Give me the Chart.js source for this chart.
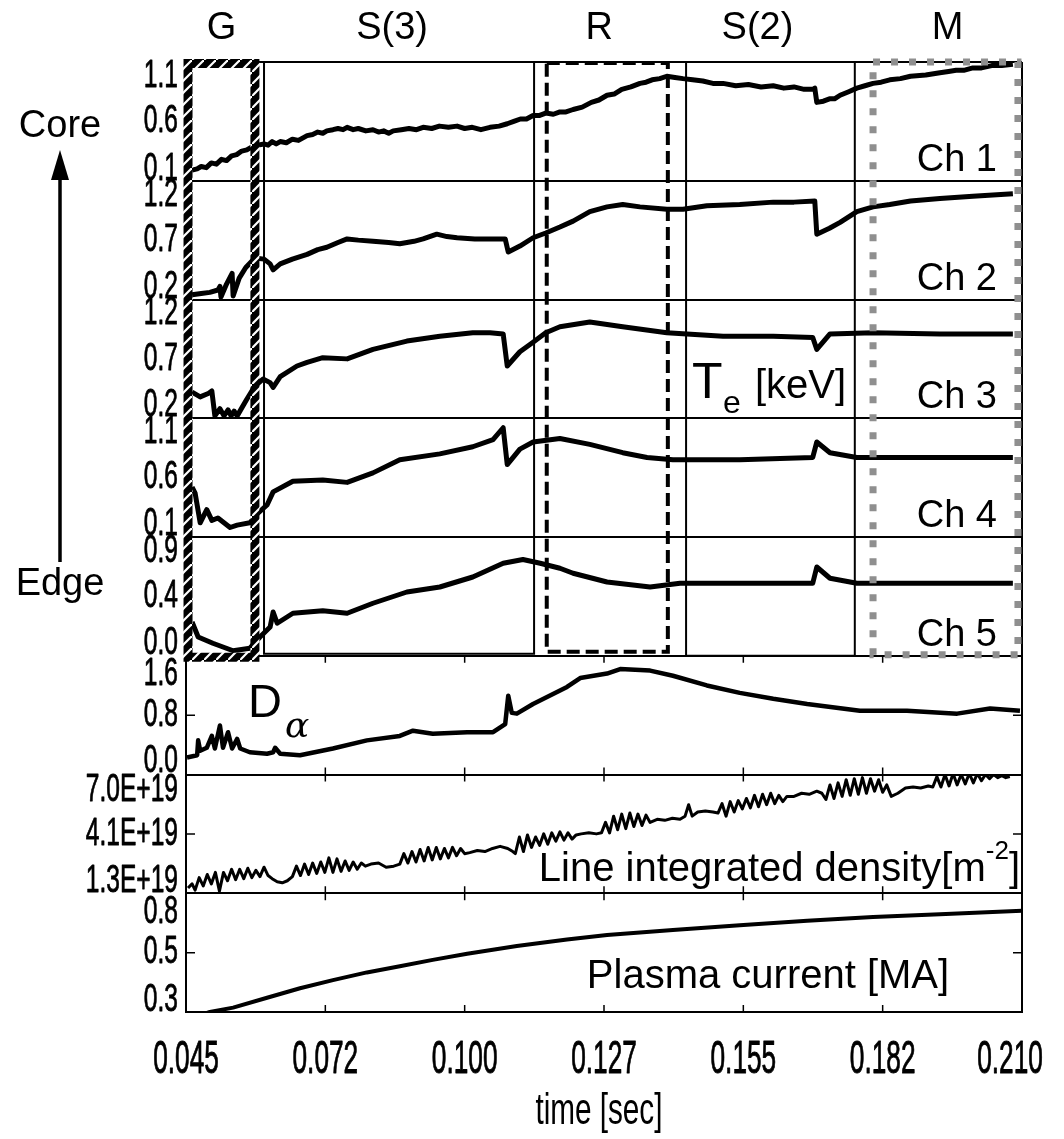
<!DOCTYPE html>
<html><head><meta charset="utf-8">
<script src="https://cdn.jsdelivr.net/npm/chart.js@4.4.1/dist/chart.umd.min.js"></script>
<style>html,body{margin:0;padding:0;background:#fff;}canvas{display:block;}</style>
</head><body>
<canvas id="c" width="1064" height="1139" style="width:1064px;height:1139px"></canvas>
<script>
// ---------------- DATA ----------------
const xTickVals = [0.045, 0.0725, 0.100, 0.1275, 0.155, 0.1825, 0.210];
const xTickLabels = ['0.045','0.072','0.100','0.127','0.155','0.182','0.210'];

const ch1T = [0.0462,0.0472,0.0480,0.0490,0.0500,0.0510,0.0520,0.0530,0.0540,0.0550,0.0560,0.0570,0.0582,0.0592,0.0604,0.0612,0.0620,0.0628,0.0636,0.0648,0.0660,0.0672,0.0689,0.0700,0.0710,0.0720,0.0728,0.0740,0.0750,0.0760,0.0768,0.0780,0.0790,0.0805,0.0819,0.0830,0.0840,0.0850,0.0859,0.0875,0.0890,0.0905,0.0918,0.0935,0.0950,0.0968,0.0985,0.1000,0.1015,0.1032,0.1050,0.1068,0.1084,0.1097,0.1110,0.1122,0.1135,0.1148,0.1160,0.1175,0.1188,0.1200,0.1214,0.1232,0.1250,0.1265,0.1281,0.1295,0.1310,0.1328,0.1346,0.1358,0.1370,0.1385,0.1399,0.1415,0.1431,0.1450,0.1470,0.1490,0.1510,0.1535,0.1560,0.1585,0.1609,0.1630,0.1650,0.1670,0.1687,0.1691,0.1695,0.1708,0.1720,0.1730,0.1741,0.1758,0.1774,0.1790,0.1806,0.1822,0.1839,0.1860,0.1880,0.1910,0.1938,0.1955,0.1970,0.1985,0.2003,0.2020,0.2040,0.2060,0.2082];
const ch1V = [0.19,0.20,0.22,0.21,0.25,0.24,0.28,0.27,0.31,0.32,0.35,0.36,0.39,0.40,0.41,0.40,0.43,0.41,0.43,0.42,0.45,0.44,0.48,0.49,0.51,0.50,0.52,0.53,0.54,0.53,0.55,0.53,0.54,0.52,0.53,0.51,0.52,0.50,0.52,0.53,0.54,0.53,0.55,0.54,0.56,0.55,0.56,0.54,0.55,0.53,0.55,0.56,0.58,0.60,0.62,0.62,0.65,0.65,0.67,0.66,0.68,0.68,0.70,0.72,0.76,0.78,0.82,0.83,0.87,0.89,0.92,0.93,0.95,0.96,0.98,0.97,0.96,0.95,0.94,0.92,0.92,0.90,0.91,0.89,0.90,0.88,0.89,0.87,0.87,0.88,0.76,0.77,0.79,0.79,0.82,0.85,0.88,0.90,0.92,0.93,0.95,0.96,0.98,0.99,1.01,1.02,1.03,1.03,1.05,1.05,1.07,1.07,1.08];

const ch2T = [0.0462,0.0480,0.0497,0.0513,0.0517,0.0519,0.0530,0.0541,0.0543,0.0555,0.0568,0.0586,0.0604,0.0616,0.0622,0.0636,0.0660,0.0689,0.0710,0.0728,0.0750,0.0768,0.0790,0.0819,0.0850,0.0872,0.0900,0.0918,0.0945,0.0965,0.0985,0.1020,0.1050,0.1080,0.1086,0.1109,0.1135,0.1160,0.1188,0.1214,0.1247,0.1281,0.1312,0.1346,0.1399,0.1431,0.1478,0.1543,0.1609,0.1650,0.1691,0.1695,0.1720,0.1741,0.1774,0.1806,0.1839,0.1880,0.1938,0.2003,0.2082];
const ch2V = [0.24,0.25,0.26,0.28,0.31,0.22,0.33,0.42,0.23,0.38,0.47,0.55,0.54,0.50,0.45,0.50,0.54,0.58,0.62,0.64,0.68,0.71,0.70,0.69,0.68,0.67,0.69,0.71,0.75,0.73,0.72,0.71,0.71,0.71,0.60,0.65,0.72,0.76,0.81,0.86,0.94,0.98,1.00,0.98,0.96,0.96,0.99,1.00,1.02,1.02,1.03,0.75,0.80,0.85,0.94,0.98,1.00,1.03,1.05,1.07,1.09];

const ch3T = [0.0462,0.0478,0.0495,0.0501,0.0507,0.0517,0.0525,0.0533,0.0539,0.0545,0.0551,0.0570,0.0586,0.0602,0.0616,0.0622,0.0636,0.0669,0.0689,0.0720,0.0768,0.0819,0.0886,0.0951,0.1016,0.1050,0.1076,0.1084,0.1109,0.1135,0.1160,0.1188,0.1247,0.1312,0.1399,0.1510,0.1609,0.1687,0.1695,0.1721,0.1806,0.1938,0.2082];
const ch3V = [0.42,0.38,0.41,0.43,0.22,0.28,0.22,0.27,0.22,0.26,0.22,0.36,0.47,0.53,0.50,0.46,0.55,0.64,0.67,0.71,0.70,0.78,0.85,0.89,0.92,0.92,0.91,0.64,0.76,0.84,0.92,0.97,1.01,0.97,0.92,0.89,0.89,0.88,0.78,0.91,0.92,0.91,0.91];

const ch4T = [0.0462,0.0468,0.0478,0.0491,0.0501,0.0513,0.0525,0.0537,0.0551,0.0576,0.0592,0.0610,0.0622,0.0661,0.0720,0.0768,0.0819,0.0872,0.0951,0.1016,0.1056,0.1076,0.1084,0.1109,0.1135,0.1188,0.1247,0.1312,0.1360,0.1411,0.1543,0.1687,0.1695,0.1721,0.1774,0.1938,0.2082];
const ch4V = [0.52,0.47,0.22,0.33,0.24,0.26,0.22,0.18,0.20,0.22,0.30,0.37,0.48,0.57,0.58,0.56,0.64,0.75,0.80,0.86,0.92,1.02,0.71,0.84,0.90,0.93,0.88,0.81,0.77,0.75,0.75,0.77,0.90,0.81,0.77,0.77,0.77];

const ch5T = [0.0462,0.0474,0.0503,0.0543,0.0576,0.0596,0.0616,0.0622,0.0630,0.0661,0.0720,0.0768,0.0819,0.0886,0.0951,0.1016,0.1076,0.1115,0.1149,0.1188,0.1214,0.1281,0.1366,0.1425,0.1543,0.1687,0.1695,0.1721,0.1774,0.2082];
const ch5V = [0.22,0.10,0.05,-0.01,0.01,0.10,0.18,0.30,0.21,0.29,0.31,0.29,0.37,0.46,0.50,0.58,0.69,0.72,0.69,0.65,0.61,0.54,0.50,0.53,0.53,0.53,0.66,0.57,0.53,0.53];

const dAlphaT = [0.0452,0.0472,0.0474,0.0478,0.0491,0.0501,0.0507,0.0517,0.0523,0.0533,0.0541,0.0551,0.0557,0.0576,0.0610,0.0622,0.0626,0.0636,0.0675,0.0740,0.0807,0.0872,0.0898,0.0937,0.1005,0.1056,0.1080,0.1086,0.1093,0.1103,0.1135,0.1202,0.1228,0.1281,0.1307,0.1366,0.1411,0.1478,0.1543,0.1609,0.1676,0.1780,0.1873,0.1972,0.2037,0.2096];
const dAlphaV = [0.23,0.26,0.46,0.32,0.36,0.52,0.35,0.66,0.36,0.57,0.35,0.48,0.35,0.30,0.28,0.30,0.36,0.28,0.26,0.35,0.46,0.52,0.59,0.55,0.57,0.57,0.68,1.06,0.83,0.82,0.95,1.18,1.30,1.36,1.42,1.40,1.33,1.20,1.10,1.02,0.95,0.86,0.86,0.82,0.89,0.86];

const densT = [0.0454,0.0462,0.0468,0.0476,0.0484,0.0492,0.0500,0.0508,0.0516,0.0524,0.0532,0.0540,0.0548,0.0556,0.0564,0.0572,0.0580,0.0588,0.0596,0.0604,0.0612,0.0620,
  0.0630,0.0640,0.0650,
  0.0660,0.0668,0.0676,0.0684,0.0692,0.0700,0.0708,0.0716,0.0724,0.0732,0.0740,0.0748,0.0756,0.0764,0.0772,0.0780,0.0788,0.0796,0.0804,
  0.0815,0.0830,0.0845,0.0860,
  0.0872,0.0880,0.0888,0.0896,0.0904,0.0912,0.0920,0.0928,0.0936,0.0944,0.0952,0.0960,0.0968,0.0976,0.0984,0.0992,0.1000,
  0.1010,0.1025,0.1040,0.1055,0.1070,0.1085,0.1095,
  0.1100,0.1108,0.1116,0.1124,0.1132,0.1140,0.1148,0.1156,0.1164,0.1172,0.1180,0.1188,0.1196,0.1204,0.1212,0.1220,
  0.1230,0.1245,0.1260,0.1270,
  0.1278,0.1286,0.1294,0.1302,0.1310,0.1318,0.1326,0.1334,0.1342,0.1350,0.1358,0.1366,
  0.1380,0.1395,0.1410,0.1425,0.1435,0.1442,0.1449,
  0.1460,0.1475,0.1490,0.1500,0.1508,0.1516,0.1524,0.1532,0.1540,
  0.1548,0.1556,0.1564,0.1572,0.1580,0.1588,0.1596,0.1604,0.1612,0.1620,0.1628,0.1636,
  0.1650,0.1665,0.1680,0.1695,0.1705,
  0.1713,0.1721,0.1729,0.1737,0.1745,0.1753,0.1761,0.1769,0.1777,0.1785,0.1793,0.1801,0.1809,0.1817,0.1825,0.1833,
  0.1842,0.1855,0.1870,0.1885,0.1900,0.1915,
  0.1924,0.1932,0.1940,0.1948,0.1956,0.1964,0.1972,0.1980,0.1988,0.1996,0.2004,0.2012,0.2020,0.2028,0.2036,0.2044,0.2052,0.2060,0.2068,0.2076];
const densE19 = [1.55,1.75,1.45,2.05,1.65,2.20,1.75,2.30,1.40,2.30,1.90,2.45,1.95,2.45,2.00,2.50,2.05,2.40,2.10,2.55,2.15,2.00,
  1.85,1.80,1.90,
  2.10,2.60,2.15,2.70,2.20,2.75,2.25,2.80,2.30,3.00,2.30,2.95,2.35,2.85,2.40,2.80,2.45,2.75,2.60,
  2.70,2.75,2.55,2.60,
  2.70,3.20,2.75,3.30,2.80,3.40,2.85,3.50,2.90,3.50,2.95,3.45,3.00,3.50,3.10,3.45,3.20,
  3.25,3.35,3.30,3.45,3.55,3.45,3.30,
  3.20,4.00,3.30,4.10,3.50,4.00,3.60,4.15,3.65,4.20,3.80,4.25,3.85,4.20,3.90,4.10,
  4.15,4.20,4.15,4.20,
  4.70,4.20,5.00,4.35,5.10,4.40,5.15,4.50,5.10,4.55,5.05,4.70,
  4.85,4.80,4.90,4.85,5.00,5.55,5.00,
  5.20,5.25,5.20,5.15,5.60,5.00,5.70,5.20,5.75,
  5.35,5.85,5.40,6.00,5.45,6.05,5.55,6.10,5.60,6.00,5.70,5.95,
  5.95,6.10,6.05,6.20,6.10,
  5.80,6.50,5.85,6.60,5.95,6.75,6.00,6.80,6.05,6.85,6.10,6.80,6.20,6.75,6.15,6.50,
  5.95,6.10,6.35,6.40,6.35,6.45,
  6.40,6.90,6.40,7.00,6.45,7.05,6.50,7.00,6.55,7.05,6.60,7.05,6.70,7.00,6.80,7.00,6.85,6.95,6.85,6.90];

const currT = [0.0490,0.0497,0.0543,0.0610,0.0675,0.0740,0.0807,0.0872,0.0937,0.1005,0.1103,0.1202,0.1281,0.1411,0.1543,0.1676,0.1806,0.1938,0.2100];
const currMA = [0.255,0.26,0.28,0.325,0.368,0.405,0.44,0.468,0.497,0.525,0.56,0.59,0.61,0.633,0.655,0.675,0.692,0.705,0.72];

// y tick values and labels per panel
const ticksC1 = [0.1, 0.6, 1.1],   labelsC1 = ['0.1','0.6','1.1'];
const ticksC2 = [0.2, 0.7, 1.2],   labelsC2 = ['0.2','0.7','1.2'];
const ticksC3 = [0.2, 0.7, 1.2],   labelsC3 = ['0.2','0.7','1.2'];
const ticksC4 = [0.1, 0.6, 1.1],   labelsC4 = ['0.1','0.6','1.1'];
const ticksC5 = [-0.05, 0.425, 0.9], labelsC5 = ['0.0','0.4','0.9'];
const ticksDa = [0, 0.8, 1.6],     labelsDa = ['0.0','0.8','1.6'];
const ticksDen = [1.3, 4.15, 7.0], labelsDen = ['1.3E+19','4.1E+19','7.0E+19'];
const ticksCur = [0.26, 0.53, 0.80], labelsCur = ['0.3','0.5','0.8'];

const channelNames = ['Ch 1','Ch 2','Ch 3','Ch 4','Ch 5'];
const phaseNames = ['G','S(3)','R','S(2)','M'];
const phaseStart = [0.0454, 0.0604, 0.1162, 0.1437, 0.1806];
const phaseEnd   = [0.0586, 0.1137, 0.1401, 0.1770, 0.2092];

// ---------------- STYLES ----------------
const FONT = '"Liberation Sans", Arial, Helvetica, sans-serif';
const phaseStyle = [
  {kind:'hatch', w:9, it:1.5, ib:-1.5, dx:0},
  {kind:'solid', w:2, it:0, ib:2, dx:-7},
  {kind:'dash', w:4, it:1, ib:4, dx:-8},
  {kind:'solid', w:2, it:0, ib:0, dx:-13},
  {kind:'dots', w:7, it:0, ib:1, dx:2}
];

function yScale(min, max, ticks) {
  return {
    type:'linear', position:'left', stack:'panels', stackWeight:1, min:min, max:max,
    afterBuildTicks: s => { s.ticks = ticks.map(v => ({value:v})); },
    afterFit: s => { s.width = 0; },
    ticks:{display:false},
    grid:{drawTicks:false, lineWidth:2,
      color: c => (c.index === 0 || c.index === ticks.length-1) ? '#000' : 'rgba(0,0,0,0)'},
    border:{display:true, color:'#000', width:2}
  };
}
function pts(T, V){ return T.map((t,i) => ({x:t, y:V[i]})); }
function ds(T, V, axis, w){ return {data:pts(T,V), yAxisID:axis, xAxisID:'x', borderColor:'#000', borderWidth:w, pointRadius:0, tension:0, borderJoinStyle:'round', fill:false}; }

const yAxes = [
  ['yCur', ticksCur, labelsCur, 19, 12], ['yDen', ticksDen, labelsDen, 16, 12], ['yDa', ticksDa, labelsDa, 18, 13],
  ['yC5', ticksC5, labelsC5, 14, 13], ['yC4', ticksC4, labelsC4, 14, 13], ['yC3', ticksC3, labelsC3, 14, 13],
  ['yC2', ticksC2, labelsC2, 14, 12], ['yC1', ticksC1, labelsC1, 14, 12]
];

function condText(ctx, text, x, y, font, sx, align, maxW, stroke) {
  ctx.save();
  ctx.font = font;
  const m = ctx.measureText(text).width;
  let s = sx; if (maxW && m * s > maxW) s = maxW / m;
  const w = m * s;
  const x0 = align === 'right' ? x - w : (align === 'center' ? x - w/2 : x);
  ctx.translate(x0, y); ctx.scale(s, 1);
  ctx.textAlign = 'left'; ctx.textBaseline = 'middle';
  ctx.fillStyle = '#000';
  ctx.fillText(text, 0, 0);
  if (stroke) { ctx.strokeStyle = '#000'; ctx.lineWidth = stroke; ctx.lineJoin = 'round'; ctx.strokeText(text, 0, 0); }
  ctx.restore();
}

function hatchPattern(ctx) {
  const p = document.createElement('canvas'); p.width = 12; p.height = 12;
  const g = p.getContext('2d');
  g.fillStyle = '#000'; g.fillRect(0,0,12,12);
  g.strokeStyle = '#fff'; g.lineWidth = 2.2;
  g.beginPath(); g.moveTo(-3,15); g.lineTo(15,-3); g.stroke();
  return ctx.createPattern(p, 'repeat');
}

const decor = {
  id:'decor',
  afterDatasetsDraw(chart) {
    const ctx = chart.ctx, xs = chart.scales.x;
    const top = chart.scales.yC1.top, bot = chart.scales.yC5.bottom;
    phaseStart.forEach((t0, i) => {
      const st = phaseStyle[i];
      const x0 = xs.getPixelForValue(t0), x1 = xs.getPixelForValue(phaseEnd[i]);
      const y0 = top + st.it, y1 = bot - st.ib;
      ctx.save();
      ctx.lineWidth = st.w;
      if (st.kind === 'hatch') { ctx.strokeStyle = hatchPattern(ctx); }
      else if (st.kind === 'dash') { ctx.strokeStyle = '#000'; ctx.setLineDash([13,6]); }
      else if (st.kind === 'dots') { ctx.strokeStyle = '#8f8f8f'; ctx.setLineDash([7,11]); }
      else { ctx.strokeStyle = '#000'; }
      ctx.strokeRect(x0, y0, x1 - x0, y1 - y0);
      ctx.restore();
    });
  },
  afterDraw(chart) {
    const ctx = chart.ctx, xs = chart.scales.x, area = chart.chartArea;
    ctx.save();
    ctx.fillStyle = '#000'; ctx.strokeStyle = '#000';
    // inner tick marks on the lower panels
    ['yDa','yDen','yCur'].forEach(id => {
      const s = chart.scales[id];
      ctx.lineWidth = 1.5;
      xTickVals.slice(1, -1).forEach(v => {
        const px = xs.getPixelForValue(v);
        ctx.beginPath(); ctx.moveTo(px, s.top); ctx.lineTo(px, s.top + 7);
        ctx.moveTo(px, s.bottom); ctx.lineTo(px, s.bottom - 7); ctx.stroke();
      });
      const mid = s.getPixelForValue(s.ticks[1].value);
      ctx.beginPath(); ctx.moveTo(area.left, mid); ctx.lineTo(area.left + 9, mid);
      ctx.moveTo(area.right, mid); ctx.lineTo(area.right - 9, mid); ctx.stroke();
    });
    // y tick labels
    const tickFont = '39px ' + FONT;
    yAxes.forEach(([id, tv, tl, dTop, dBot]) => {
      const s = chart.scales[id];
      tv.forEach((v, i) => {
        let y = s.getPixelForValue(v);
        if (i === 0) y -= dBot;
        if (i === tv.length - 1) y += dTop;
        condText(ctx, tl[i], area.left - 8, y, tickFont, 0.63, 'right', 106, 0.8);
      });
    });
    // x tick labels
    xTickVals.forEach((v, i) => {
      let px = xs.getPixelForValue(v);
      if (i === xTickVals.length - 1) px -= 12;
      condText(ctx, xTickLabels[i], px, 1060, '46px ' + FONT, 0.57, 'center', 0, 0.9);
    });
    condText(ctx, 'time [sec]', xs.getPixelForValue(0.1265), 1112, '45px ' + FONT, 0.66, 'center', 0, 0);
    // phase names
    ctx.font = '38px ' + FONT; ctx.textAlign = 'center'; ctx.textBaseline = 'alphabetic';
    phaseNames.forEach((n, i) => {
      const cx = (xs.getPixelForValue(phaseStart[i]) + xs.getPixelForValue(phaseEnd[i])) / 2 + phaseStyle[i].dx;
      ctx.fillText(n, cx, 39);
    });
    // Core / Edge and arrow
    ctx.fillText('Core', 60, 137);
    ctx.fillText('Edge', 60, 595);
    ctx.lineWidth = 3.5;
    ctx.beginPath(); ctx.moveTo(60, 562); ctx.lineTo(60, 172); ctx.stroke();
    ctx.beginPath(); ctx.moveTo(60, 150); ctx.lineTo(51, 180); ctx.lineTo(69, 180); ctx.closePath(); ctx.fill();
    // channel names
    ctx.textAlign = 'right';
    ['yC1','yC2','yC3','yC4','yC5'].forEach((id, i) => {
      ctx.fillText(channelNames[i], 997, chart.scales[id].bottom - 10);
    });
    // Te [keV]
    ctx.textAlign = 'left';
    ctx.font = '50px ' + FONT; ctx.fillText('T', 692, 398);
    ctx.font = '32px ' + FONT; ctx.fillText('e', 723, 413);
    ctx.font = '40px ' + FONT; ctx.fillText('[keV]', 755, 398);
    // D alpha
    ctx.font = '47px ' + FONT; ctx.fillText('D', 248, 717);
    ctx.font = 'italic 36px "DejaVu Serif", "Liberation Serif", serif'; ctx.fillText('\u03b1', 285, 737);
    // density label (right aligned)
    const runs = [['Line integrated density[m', '40px ' + FONT, 0], ['-2', '26px ' + FONT, -22], [']', '40px ' + FONT, 0]];
    let tot = 0;
    runs.forEach(r => { ctx.font = r[1]; tot += ctx.measureText(r[0]).width; });
    let x = 1020 - tot;
    runs.forEach(r => { ctx.font = r[1]; ctx.fillText(r[0], x, 881 + r[2]); x += ctx.measureText(r[0]).width; });
    // plasma current
    ctx.textAlign = 'center'; ctx.font = '40px ' + FONT;
    ctx.fillText('Plasma current [MA]', 768, 988);
    ctx.restore();
  }
};

const scales = {
  x: {type:'linear', position:'bottom', min:0.045, max:0.210,
    afterBuildTicks: s => { s.ticks = xTickVals.map(v => ({value:v})); },
    afterFit: s => { s.height = 0; },
    ticks:{display:false},
    grid:{drawTicks:false, lineWidth:2,
      color: c => (c.index === 0 || c.index === xTickVals.length-1) ? '#000' : 'rgba(0,0,0,0)'},
    border:{display:true, color:'#000', width:2}}
};
scales.yCur = yScale(0.26, 0.80, ticksCur);
scales.yDen = yScale(1.3, 7.0, ticksDen);
scales.yDa  = yScale(0, 1.6, ticksDa);
scales.yC5  = yScale(-0.05, 0.9, ticksC5);
scales.yC4  = yScale(0.1, 1.1, ticksC4);
scales.yC3  = yScale(0.2, 1.2, ticksC3);
scales.yC2  = yScale(0.2, 1.2, ticksC2);
scales.yC1  = yScale(0.1, 1.1, ticksC1);

new Chart(document.getElementById('c'), {
  type:'line',
  data:{datasets:[
    ds(ch1T, ch1V, 'yC1', 5), ds(ch2T, ch2V, 'yC2', 5), ds(ch3T, ch3V, 'yC3', 5),
    ds(ch4T, ch4V, 'yC4', 5), ds(ch5T, ch5V, 'yC5', 5),
    ds(dAlphaT, dAlphaV, 'yDa', 4.5), ds(densT, densE19, 'yDen', 3), ds(currT, currMA, 'yCur', 4)
  ]},
  options:{
    responsive:false, animation:false, events:[],
    layout:{padding:{left:186, top:62, right:42, bottom:127}},
    plugins:{legend:{display:false}, tooltip:{enabled:false}},
    scales:scales
  },
  plugins:[decor]
});
</script>
</body></html>
